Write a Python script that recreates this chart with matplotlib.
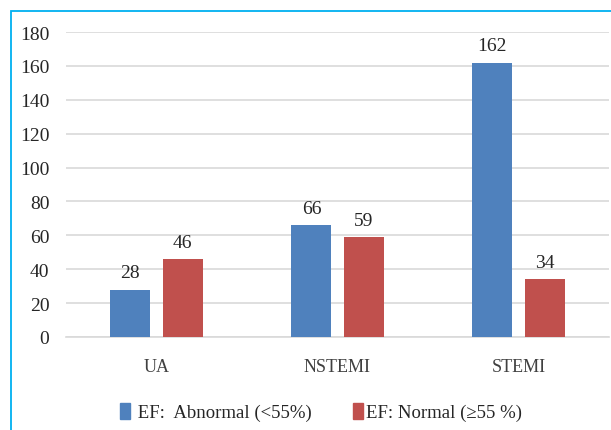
import matplotlib
matplotlib.use("Agg")
import matplotlib.pyplot as plt
from matplotlib.patches import Rectangle, Patch
import numpy as np

categories = ["UA", "NSTEMI", "STEMI"]
abnormal = [28, 66, 162]
normal = [46, 59, 34]
series_labels = [" EF:  Abnormal (<55%)", "EF: Normal (\u226555 %)"]
yticks = [0, 20, 40, 60, 80, 100, 120, 140, 160, 180]

plt.rcParams['font.family'] = ['Liberation Serif', 'DejaVu Serif']
W, H = 611, 431
fig = plt.figure(figsize=(W/100, H/100), dpi=100)
ax = fig.add_axes([66/W, (H-338)/H, (609-66)/W, (338-33)/H])

x = np.arange(len(categories))
bw = 0.221
off = 0.144
blue = "#4f81bd"
red = "#c0504d"
b1 = ax.bar(x - off, abnormal, bw, color=blue, zorder=3)
b2 = ax.bar(x + off, normal, bw, color=red, zorder=3)
for bars, vals in ((b1, abnormal), (b2, normal)):
    for r, v in zip(bars, vals):
        ax.annotate(str(v), (r.get_x() + r.get_width()/2, v), xytext=(0, 6),
                    textcoords="offset points", ha="center", va="bottom",
                    fontsize=14, color="#262626")

ax.set_xlim(-0.5, 2.5)
ax.set_ylim(0, 180)
ax.set_yticks(yticks)
ax.set_xticks(x)
ax.set_xticklabels(categories)
ax.tick_params(axis='y', length=0, pad=12, labelsize=14, labelcolor="#262626")
ax.tick_params(axis='x', length=0, pad=15, labelsize=13, labelcolor="#404040")
ax.grid(axis='y', color="#d9d9d9", lw=1.2, zorder=0)
for s in ["top", "right", "left"]:
    ax.spines[s].set_visible(False)
ax.spines["bottom"].set_color("#d9d9d9")
ax.spines["bottom"].set_linewidth(1.2)

handles = [Patch(color=blue), Patch(color=red)]
fig.legend(handles, series_labels, loc="center", bbox_to_anchor=(321/W, (H-413)/H),
           ncol=2, frameon=False, fontsize=13.5, handlelength=0.55, handleheight=0.95,
           handletextpad=0.15, columnspacing=2.2, labelcolor="#262626")

fig.add_artist(Rectangle((11/W, -0.1), 1.2, (H-12)/H + 0.1, transform=fig.transFigure,
                         fill=False, edgecolor="#00b0f0", lw=1.3))

fig.savefig("out.png", dpi=100)
